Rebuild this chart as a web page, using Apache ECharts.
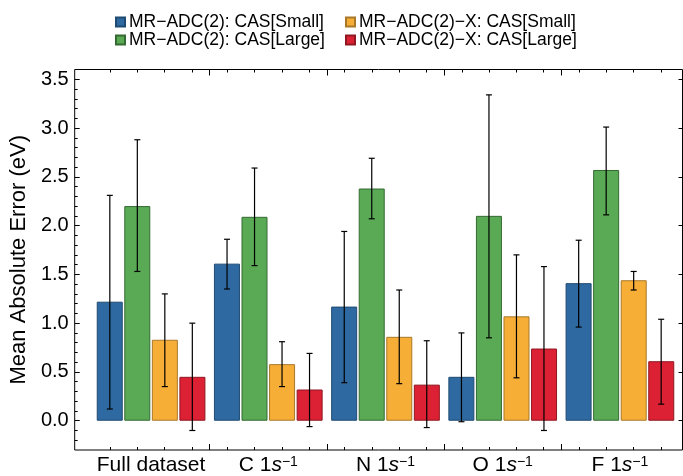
<!DOCTYPE html>
<html>
<head>
<meta charset="utf-8">
<script src="https://cdn.jsdelivr.net/npm/echarts@6/dist/echarts.min.js"></script>
<style>
  html, body { margin: 0; padding: 0; background: #fff; }
  #chart { width: 683px; height: 476px; }
</style>
</head>
<body>
<div id="chart"></div>
<script>
// categories (groups) along the x axis
var groups = ['Full dataset', 'C', 'N', 'O', 'F'];
var seriesNames = ['MR\u2212ADC(2): CAS[Small]', 'MR\u2212ADC(2): CAS[Large]',
                   'MR\u2212ADC(2)\u2212X: CAS[Small]', 'MR\u2212ADC(2)\u2212X: CAS[Large]'];
var colors = ['#2e6aa1', '#59a955', '#f6ae37', '#dc2134'];
var edges = ['#1f4a72', '#356a32', '#a9792a', '#8f1822'];

// mean absolute errors
var casSmall  = [1.22, 1.61, 1.17, 0.45, 1.41];
var casLarge  = [2.20, 2.09, 2.38, 2.10, 2.57];
var xSmall    = [0.83, 0.58, 0.86, 1.07, 1.44];
var xLarge    = [0.45, 0.32, 0.37, 0.74, 0.61];

// error bar ranges [low, high]
var casSmallErr = [[0.12, 2.31], [1.35, 1.86], [0.39, 1.94], [-0.01, 0.90], [0.96, 1.85]];
var casLargeErr = [[1.53, 2.88], [1.59, 2.59], [2.07, 2.69], [0.85, 3.34], [2.11, 3.01]];
var xSmallErr   = [[0.35, 1.30], [0.35, 0.81], [0.38, 1.34], [0.44, 1.70], [1.34, 1.53]];
var xLargeErr   = [[-0.10, 1.00], [-0.06, 0.69], [-0.07, 0.82], [-0.10, 1.58], [0.17, 1.04]];

// y tick labels
var yTicks = [0, 0.5, 1.0, 1.5, 2.0, 2.5, 3.0, 3.5];

var values = [casSmall, casLarge, xSmall, xLarge];
var errs = [casSmallErr, casLargeErr, xSmallErr, xLargeErr];

// layout: group width 118px, bar pitch 27.5px
var groupPx = 118.1;
var pitch = 27.5;
var xMin = -17.9 / groupPx, xMax = 5 + 4 / groupPx;

var sepTicks = [1, 2, 3, 4];
var barTicks = [];
for (var i = 0; i < groups.length; i++) {
  for (var k = 0; k < 4; k++) barTicks.push(i + 0.5 + (k - 1.5) * pitch / groupPx);
}
var groupCenters = groups.map(function (g, i) { return i + 0.5; });
var minorTicks = [];
for (var t = -2; t <= 35; t++) { if (t % 5 !== 0) minorTicks.push(t / 10); }

function groupLabel(v) {
  var g = groups[Math.floor(v)];
  if (g === 'Full dataset') return '{t|' + g + '}';
  return '{t|' + g + ' 1}{i|s}{s|\u22121}';
}

function xAxisDef(pos, ticks, len, labels) {
  return {
    type: 'value', position: pos, min: xMin, max: xMax,
    axisLine: { show: false, onZero: false }, splitLine: { show: false },
    axisTick: { show: true, inside: true, length: len, customValues: ticks,
                lineStyle: { color: '#000', width: 1 } },
    axisLabel: labels ? {
      show: true, customValues: groupCenters, margin: 5,
      formatter: groupLabel,
      rich: {
        t: { fontFamily: 'Liberation Sans', fontSize: 21, color: '#000', verticalAlign: 'bottom' },
        i: { fontFamily: 'Liberation Sans', fontSize: 21, color: '#000', fontStyle: 'italic', verticalAlign: 'bottom' },
        s: { fontFamily: 'Liberation Sans', fontSize: 14, lineHeight: 8, color: '#000', verticalAlign: 'top' }
      }
    } : { show: false }
  };
}

function yAxisDef(pos, ticks, len, labels) {
  var ax = {
    type: 'value', position: pos, min: -0.3, max: 3.6,
    axisLine: { show: false, onZero: false }, splitLine: { show: false },
    axisTick: { show: true, inside: true, length: len, customValues: ticks,
                lineStyle: { color: '#000', width: 1 } },
    axisLabel: labels ? {
      show: true, customValues: yTicks, margin: 6,
      fontFamily: 'Liberation Sans', fontSize: 20, color: '#000',
      formatter: function (v) { return v.toFixed(1); }
    } : { show: false }
  };
  if (labels) {
    ax.name = 'Mean Absolute Error (eV)';
    ax.nameLocation = 'middle';
    ax.nameGap = 40;
    ax.nameTextStyle = { fontFamily: 'Liberation Sans', fontSize: 22, color: '#000' };
  }
  return ax;
}

var series = [];
values.forEach(function (vals, k) {
  series.push({
    name: seriesNames[k], type: 'bar', xAxisIndex: 0, yAxisIndex: 0,
    barWidth: 26, barGap: '6%',
    itemStyle: { color: colors[k], borderColor: edges[k], borderWidth: 1 },
    data: vals.map(function (v, i) { return [i + 0.5, v]; })
  });
});
errs.forEach(function (list, k) {
  series.push({
    type: 'custom', xAxisIndex: 0, yAxisIndex: 0, z: 5, silent: true,
    encode: { x: 0, y: [1, 2] },
    data: list.map(function (e, i) { return [i + 0.5, e[0], e[1]]; }),
    renderItem: function (params, api) {
      var hi = api.coord([api.value(0), api.value(2)]);
      var lo = api.coord([api.value(0), api.value(1)]);
      var x = hi[0] + (k - 1.5) * pitch;
      var st = { stroke: '#000', lineWidth: 1.2 };
      return {
        type: 'group',
        children: [
          { type: 'line', shape: { x1: x, y1: hi[1], x2: x, y2: lo[1] }, style: st },
          { type: 'line', shape: { x1: x - 3, y1: hi[1], x2: x + 3, y2: hi[1] }, style: st },
          { type: 'line', shape: { x1: x - 3, y1: lo[1], x2: x + 3, y2: lo[1] }, style: st }
        ]
      };
    }
  });
});

function legendDef(left, names) {
  return {
    orient: 'vertical', left: left, top: 13, itemGap: 0, padding: 0,
    itemWidth: 9, itemHeight: 9, icon: 'rect', selectedMode: false,
    data: names,
    textStyle: { fontFamily: 'Liberation Sans', fontSize: 17.5, color: '#000', lineHeight: 17.5, padding: [0, 0, 0, -1] }
  };
}

var myChart = echarts.init(document.getElementById('chart'));
var option = {
  animation: false,
  legend: [
    legendDef(115, [seriesNames[0], seriesNames[1]]),
    legendDef(345, [seriesNames[2], seriesNames[3]])
  ],
  grid: {
    left: 70.5, right: 0.5, top: 69.5, bottom: 26,
    show: true, borderColor: '#000', borderWidth: 1, backgroundColor: 'transparent'
  },
  xAxis: [
    xAxisDef('bottom', sepTicks, 6, true),
    xAxisDef('bottom', barTicks, 3, false),
    xAxisDef('top', sepTicks, 6, false),
    xAxisDef('top', barTicks, 3, false)
  ],
  yAxis: [
    yAxisDef('left', yTicks, 5, true),
    yAxisDef('left', minorTicks, 3, false),
    yAxisDef('right', yTicks, 4, false)
  ],
  series: series
};
myChart.setOption(option);
</script>
</body>
</html>
